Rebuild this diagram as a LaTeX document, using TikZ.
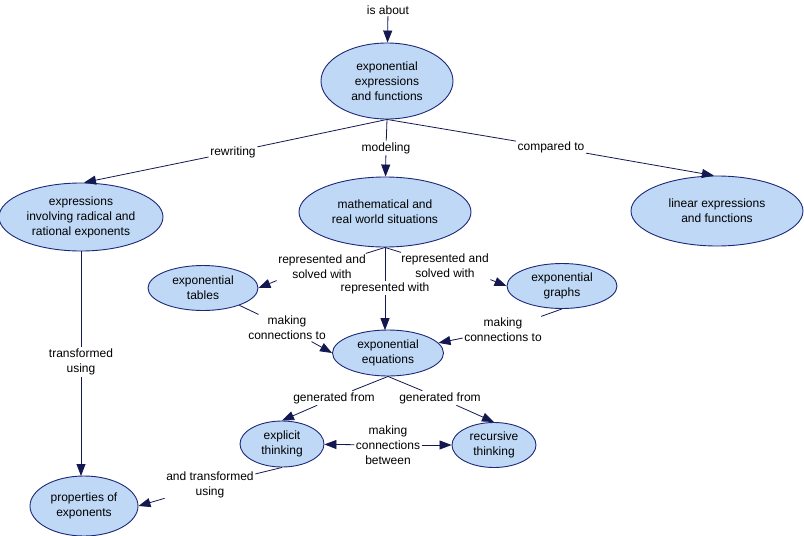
\documentclass[tikz,border=0pt]{standalone}
\usepackage{fontspec}
\setmainfont{Liberation Sans}
\usetikzlibrary{shapes.geometric,arrows.meta}
\definecolor{nodefill}{RGB}{190,216,246}
\definecolor{nodeline}{RGB}{30,40,120}
\definecolor{linkcol}{RGB}{20,24,80}
\begin{document}
\begin{tikzpicture}[x=1pt,y=-1pt,
  concept/.style={ellipse, draw=nodeline, fill=nodefill, line width=0.9pt, inner sep=0pt, align=center, font=\fontsize{12}{15}\selectfont},
  lbl/.style={inner sep=1.5pt, align=center, font=\fontsize{12}{15}\selectfont},
  link/.style={draw=linkcol, line width=0.8pt},
  arr/.style={link, -{Triangle[length=12pt,width=9pt]}},
]
\fill[white] (0,0) rectangle (804,536);
\useasboundingbox (0,0) rectangle (804,536);

\node[concept, minimum width=132pt, minimum height=76pt] (e1) at (387,81) {exponential\\expressions\\and functions};
\node[concept, minimum width=164pt, minimum height=68pt] (e2) at (81,217) {expressions\\involving radical and\\rational exponents};
\node[concept, minimum width=172pt, minimum height=70pt] (e3) at (385,212) {mathematical and\\real world situations};
\node[concept, minimum width=172pt, minimum height=70pt] (e4) at (717,211) {linear expressions\\and functions};
\node[concept, minimum width=108pt, minimum height=60pt] (e5) at (84,506) {properties of\\exponents};
\node[concept, minimum width=110pt, minimum height=45pt] (e6) at (203,288) {exponential\\tables};
\node[concept, minimum width=110pt, minimum height=45pt] (e7) at (562,286) {exponential\\graphs};
\node[concept, minimum width=111pt, minimum height=46pt] (e8) at (388,353) {exponential\\equations};
\node[concept, minimum width=84pt, minimum height=46pt] (e9) at (282,444) {explicit\\thinking};
\node[concept, minimum width=84pt, minimum height=45pt] (e10) at (494,445) {recursive\\thinking};

\node[lbl] (top) at (388,10) {is about};
\node[lbl] (l1) at (233,152) {rewriting};
\node[lbl] (l2) at (386,148) {modeling};
\node[lbl] (l3) at (551,147) {compared to};
\node[lbl] (l4) at (81,362) {transformed\\using};
\node[lbl] (l5) at (322,267) {represented and\\solved with};
\node[lbl] (l6) at (445,266) {represented and\\solved with};
\node[lbl] (l7) at (385,288) {represented with};
\node[lbl] (l8) at (287,328) {making\\connections to};
\node[lbl] (l9) at (503,330) {making\\connections to};
\node[lbl] (l10) at (334,398) {generated from};
\node[lbl] (l11) at (440,398) {generated from};
\node[lbl] (l12) at (388,445) {making\\connections\\between};
\node[lbl] (l13) at (210,485) {and transformed\\using};
\coordinate (e5top) at (81,476);
\coordinate (e8top) at (385,330.2);

\draw[arr] (top) -- (e1);
\draw[link] (e1.south) -- (l1);
\draw[arr] (l1) -- (e2.85);
\draw[link] (e1.south) -- (l2);
\draw[arr] (l2) -- (e3);
\draw[link] (e1.south) -- (l3);
\draw[arr] (l3) -- (e4.95);
\draw[link] (e2.south) -- (l4);
\draw[arr] (l4) -- (e5top);
\draw[link] (e3.south) -- (l5);
\draw[arr] (l5.south west) -- (e6.east);
\draw[link] (e3.south) -- (l6);
\draw[arr] (l6.south east) -- (e7.west);
\draw[link] (e3.south) -- (l7);
\draw[arr] (l7) -- (e8top);
\draw[link] (e6) -- (l8);
\draw[arr] (l8) -- (e8.west);
\draw[link] (e7.south) -- (l9);
\draw[arr] (l9) -- (e8);
\draw[link] (e8.south) -- (l10);
\draw[arr] (l10) -- (e9.north);
\draw[link] (e8.south) -- (l11);
\draw[arr] (l11) -- (e10.north);
\draw[arr] (l12) -- (e9);
\draw[arr] (l12) -- (e10);
\draw[link] (e9.south) -- (l13);
\draw[arr] (l13) -- (e5.east);
\end{tikzpicture}
\end{document}
